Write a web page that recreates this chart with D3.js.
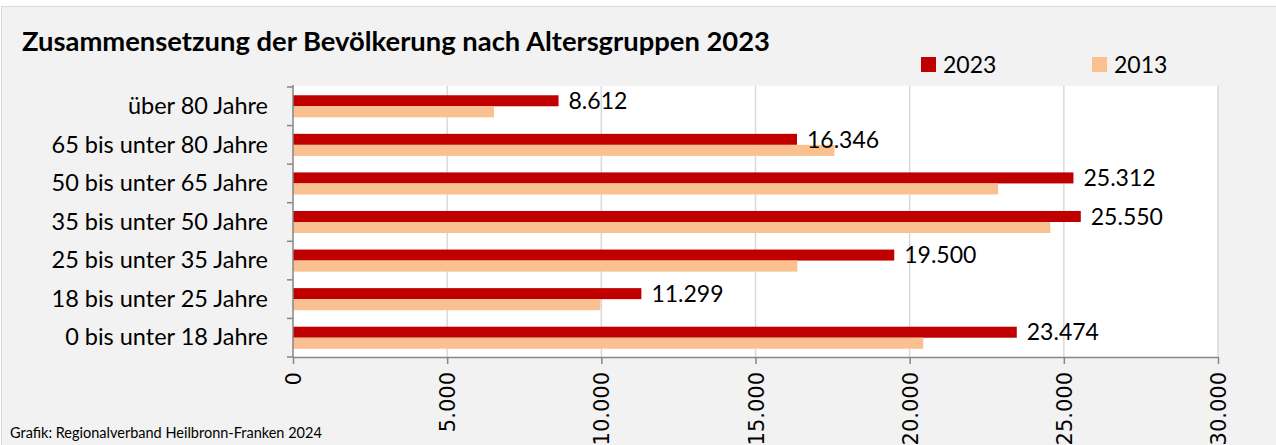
<!DOCTYPE html>
<html>
<head>
<meta charset="utf-8">
<script src="https://cdn.jsdelivr.net/npm/d3@7"></script>
<style>
  body { margin: 0; background: #fff; }
  text { font-family: Lato, "Open Sans", sans-serif; fill: #000; }
</style>
</head>
<body>
<div class="chart"></div>
<script>
var groups = ['über 80 Jahre', '65 bis unter 80 Jahre', '50 bis unter 65 Jahre', '35 bis unter 50 Jahre',
              '25 bis unter 35 Jahre', '18 bis unter 25 Jahre', '0 bis unter 18 Jahre'];
var years = ['2023', '2013'];
var v2023 = [8612, 16346, 25312, 25550, 19500, 11299, 23474];
var v2013 = [6520, 17560, 22870, 24560, 16360, 9970, 20440];
var xTicks = [0, 5000, 10000, 15000, 20000, 25000, 30000];
var colors = { '2023': '#c00000', '2013': '#fac090' };

var de = d3.formatLocale({ decimal: ',', thousands: '.', grouping: [3], currency: ['', ' €'] });
var fmt = de.format(',');

var W = 1276, H = 445;
var svg = d3.select('.chart').append('svg')
            .attr('width', W)
            .attr('height', H);

// outer frame
svg.append('rect').attr('x', 1.5).attr('y', 6.5).attr('width', W + 5).attr('height', H)
   .attr('fill', '#f2f2f2').attr('stroke', '#d9d9d9');

var pLeft = 293, pRight = 1218, pTop = 87, pBottom = 357;

var x = d3.scaleLinear().domain([0, 30000]).range([pLeft, pRight]);
var y = d3.scaleBand().domain(groups).range([pTop, pBottom]);
var yi = d3.scaleBand().domain(years).range([0, y.bandwidth()]).paddingInner(0).paddingOuter(0.75);

// plot area
svg.append('rect').attr('x', pLeft).attr('y', pTop - 1).attr('width', pRight - pLeft).attr('height', pBottom - pTop + 1)
   .attr('fill', '#fff');

// gridlines
svg.selectAll('.grid').data(xTicks.slice(1)).enter().append('line')
   .attr('x1', function(d){ return x(d); }).attr('x2', function(d){ return x(d); })
   .attr('y1', pTop - 1).attr('y2', pBottom)
   .attr('stroke', '#d9d9d9').attr('stroke-width', 1.5);

// bars
var rows = groups.map(function(g, i){ return { g: g, '2023': v2023[i], '2013': v2013[i] }; });
var rowG = svg.selectAll('.row').data(rows).enter().append('g')
   .attr('transform', function(d){ return 'translate(0,' + y(d.g) + ')'; });

rowG.selectAll('rect').data(function(d){ return years.map(function(k){ return { k: k, v: d[k] }; }); })
   .enter().append('rect')
     .attr('x', x(0))
     .attr('y', function(d){ return yi(d.k); })
     .attr('width', function(d){ return x(d.v) - x(0); })
     .attr('height', yi.bandwidth())
     .attr('fill', function(d){ return colors[d.k]; });

// data labels for 2023
rowG.append('text')
   .attr('x', function(d){ return x(d['2023']) + 10; })
   .attr('y', yi('2023') + yi.bandwidth() / 2)
   .attr('dy', '0.36em')
   .style('font-size', '23px')
   .text(function(d){ return fmt(d['2023']); });

// left axis
svg.append('line').attr('x1', pLeft).attr('x2', pLeft).attr('y1', pTop - 2).attr('y2', pBottom)
   .attr('stroke', '#868686').attr('stroke-width', 1.5);
var edges = groups.map(function(g){ return y(g); }).concat([pBottom]);
svg.selectAll('.ytick').data(edges).enter().append('line')
   .attr('x1', pLeft - 6).attr('x2', pLeft)
   .attr('y1', function(d){ return d; }).attr('y2', function(d){ return d; })
   .attr('stroke', '#868686').attr('stroke-width', 1.5);
svg.selectAll('.ylab').data(groups).enter().append('text')
   .attr('x', 268)
   .attr('y', function(d){ return y(d) + y.bandwidth() / 2; })
   .attr('dy', '0.33em')
   .attr('text-anchor', 'end')
   .style('font-size', '23.5px')
   .text(function(d){ return d; });

// bottom axis
var xAxis = svg.append('g')
   .attr('transform', 'translate(0,' + pBottom + ')')
   .call(d3.axisBottom(x).tickValues(xTicks).tickFormat(fmt).tickSize(7).tickSizeOuter(0));
xAxis.select('.domain').attr('stroke', '#868686').attr('stroke-width', 1.5);
xAxis.selectAll('.tick line').attr('stroke', '#868686').attr('stroke-width', 1.5);
xAxis.selectAll('.tick text')
   .attr('transform', 'rotate(-90)')
   .attr('x', -15).attr('y', 0).attr('dy', '0.36em')
   .attr('text-anchor', 'end')
   .style('font-family', '"DejaVu Sans", sans-serif')
   .style('font-size', '21px')
   .attr('fill', '#000');

// title
svg.append('text').attr('x', 22).attr('y', 51)
   .style('font-size', '26px').style('font-weight', 'bold')
   .attr('textLength', 748).attr('lengthAdjust', 'spacingAndGlyphs')
   .text('Zusammensetzung der Bevölkerung nach Altersgruppen 2023');

// legend
var legX = [921, 1092];
var leg = svg.selectAll('.leg').data(years).enter().append('g')
   .attr('transform', function(d, i){ return 'translate(' + legX[i] + ',57)'; });
leg.append('rect').attr('width', 15).attr('height', 15).attr('fill', function(d){ return colors[d]; });
leg.append('text').attr('x', 22).attr('y', 15.5).style('font-size', '23px').text(function(d){ return d; });

// source
svg.append('text').attr('x', 10).attr('y', 438).style('font-size', '14.5px')
   .text('Grafik: Regionalverband Heilbronn-Franken 2024');
</script>
</body>
</html>
